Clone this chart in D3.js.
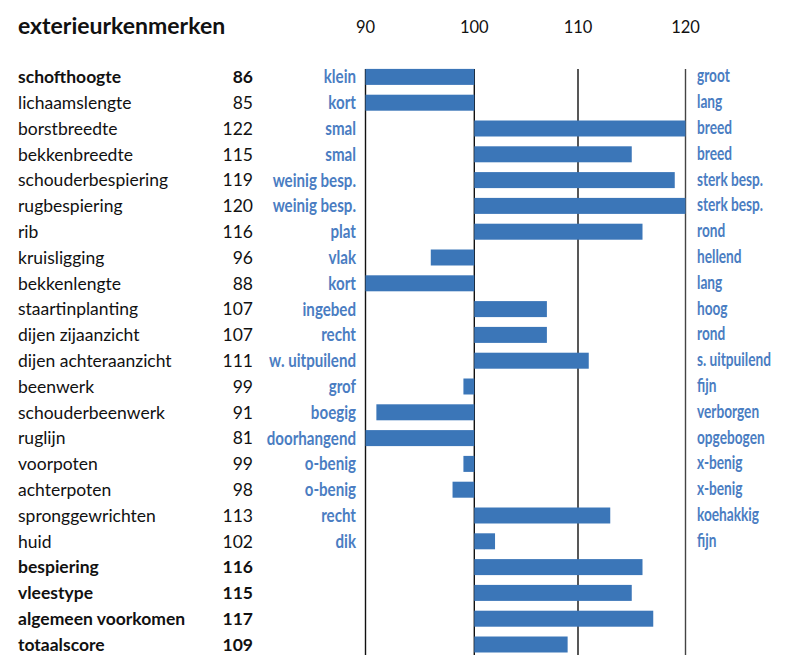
<!DOCTYPE html>
<html>
<head>
<meta charset="utf-8">
<script src="https://cdn.jsdelivr.net/npm/d3@7"></script>
<style>
body{margin:0;background:#fff}
text{font-family:Lato,"Open Sans",sans-serif}
</style>
</head>
<body>
<svg id="chart"></svg>
<script>
// data
var kenmerken = ["schofthoogte","lichaamslengte","borstbreedte","bekkenbreedte","schouderbespiering","rugbespiering","rib","kruisligging","bekkenlengte","staartinplanting","dijen zijaanzicht","dijen achteraanzicht","beenwerk","schouderbeenwerk","ruglijn","voorpoten","achterpoten","spronggewrichten","huid","bespiering","vleestype","algemeen voorkomen","totaalscore"]
var scores = [86,85,122,115,119,120,116,96,88,107,107,111,99,91,81,99,98,113,102,116,115,117,109]
var links = ["klein","kort","smal","smal","weinig besp.","weinig besp.","plat","vlak","kort","ingebed","recht","w. uitpuilend","grof","boegig","doorhangend","o-benig","o-benig","recht","dik","","","",""]
var rechts = ["groot","lang","breed","breed","sterk besp.","sterk besp.","rond","hellend","lang","hoog","rond","s. uitpuilend","fijn","verborgen","opgebogen","x-benig","x-benig","koehakkig","fijn","","","",""]
var vet = ["schofthoogte","bespiering","vleestype","algemeen voorkomen","totaalscore"]
var ticks = [90,100,110,120]

var width = 788, height = 655
var blauw = "#4a7dc2", balk = "#3b76b8"

var svg = d3.select("#chart")
  .attr("width", width)
  .attr("height", height)

// the printed grid is not quite even, so map each tick
var x = d3.scaleLinear()
  .domain(ticks)
  .range([365.5,474.3,578,685.5])
  .clamp(true)

var y = d3.scaleBand()
  .domain(d3.range(kenmerken.length))
  .range([64, 64 + 25.8*kenmerken.length])
  .paddingInner(0.38)
  .paddingOuter(0.19)

var rij = function(i){ return y(i) + y.bandwidth()/2 }

svg.append("text")
  .attr("x", 18)
  .attr("y", 34)
  .text("exterieurkenmerken")
  .style("font-size", "23px")
  .style("font-weight", "bold")
  .style("fill", "#111")

// axis labels on top
svg.selectAll(".tick-label")
  .data(ticks)
  .enter()
  .append("text")
  .attr("class", "tick-label")
  .attr("x", function(d){ return x(d) })
  .attr("y", 33)
  .attr("text-anchor", "middle")
  .text(function(d){ return d })
  .style("font-size", "16.5px")
  .style("fill", "#111")

svg.selectAll(".grid")
  .data(ticks)
  .enter()
  .append("line")
  .attr("class", "grid")
  .attr("x1", function(d){ return x(d) })
  .attr("x2", function(d){ return x(d) })
  .attr("y1", y(0))
  .attr("y2", height)
  .attr("stroke", function(d){ return d == 120 ? "#444" : "#111" })
  .attr("stroke-width", 1.4)

svg.selectAll(".bar")
  .data(scores)
  .enter()
  .append("rect")
  .attr("class", "bar")
  .attr("x", function(d){ return x(Math.min(d,100)) })
  .attr("width", function(d){ return Math.abs(x(d) - x(100)) })
  .attr("y", function(d,i){ return y(i) })
  .attr("height", y.bandwidth())
  .attr("fill", balk)

var isVet = function(d){ return vet.indexOf(d) >= 0 }

svg.selectAll(".naam")
  .data(kenmerken)
  .enter()
  .append("text")
  .attr("class", "naam")
  .attr("x", 18)
  .attr("y", function(d,i){ return rij(i) })
  .attr("dy", "0.36em")
  .text(function(d){ return d })
  .style("font-size", "17.5px")
  .style("font-weight", function(d){ return isVet(d) ? "bold" : "normal" })
  .style("fill", "#111")

svg.selectAll(".score")
  .data(scores)
  .enter()
  .append("text")
  .attr("class", "score")
  .attr("x", 253)
  .attr("y", function(d,i){ return rij(i) })
  .attr("dy", "0.36em")
  .attr("text-anchor", "end")
  .text(function(d){ return d })
  .style("font-size", "17.5px")
  .style("font-weight", function(d,i){ return isVet(kenmerken[i]) ? "bold" : "normal" })
  .style("fill", "#111")

// blue descriptors, condensed look
svg.selectAll(".links")
  .data(links)
  .enter()
  .append("text")
  .attr("class", "links")
  .attr("transform", function(d,i){ return "translate(356," + rij(i) + ") scale(0.84,1)" })
  .attr("dy", "0.36em")
  .attr("text-anchor", "end")
  .text(function(d){ return d })
  .style("font-size", "18px")
  .style("font-weight", "bold")
  .style("fill", blauw)

svg.selectAll(".rechts")
  .data(rechts)
  .enter()
  .append("text")
  .attr("class", "rechts")
  .attr("transform", function(d,i){ return "translate(697," + (rij(i) - 1) + ") scale(0.76,1)" })
  .attr("dy", "0.36em")
  .text(function(d){ return d })
  .style("font-size", "18px")
  .style("font-weight", "bold")
  .style("fill", blauw)
</script>
</body>
</html>
